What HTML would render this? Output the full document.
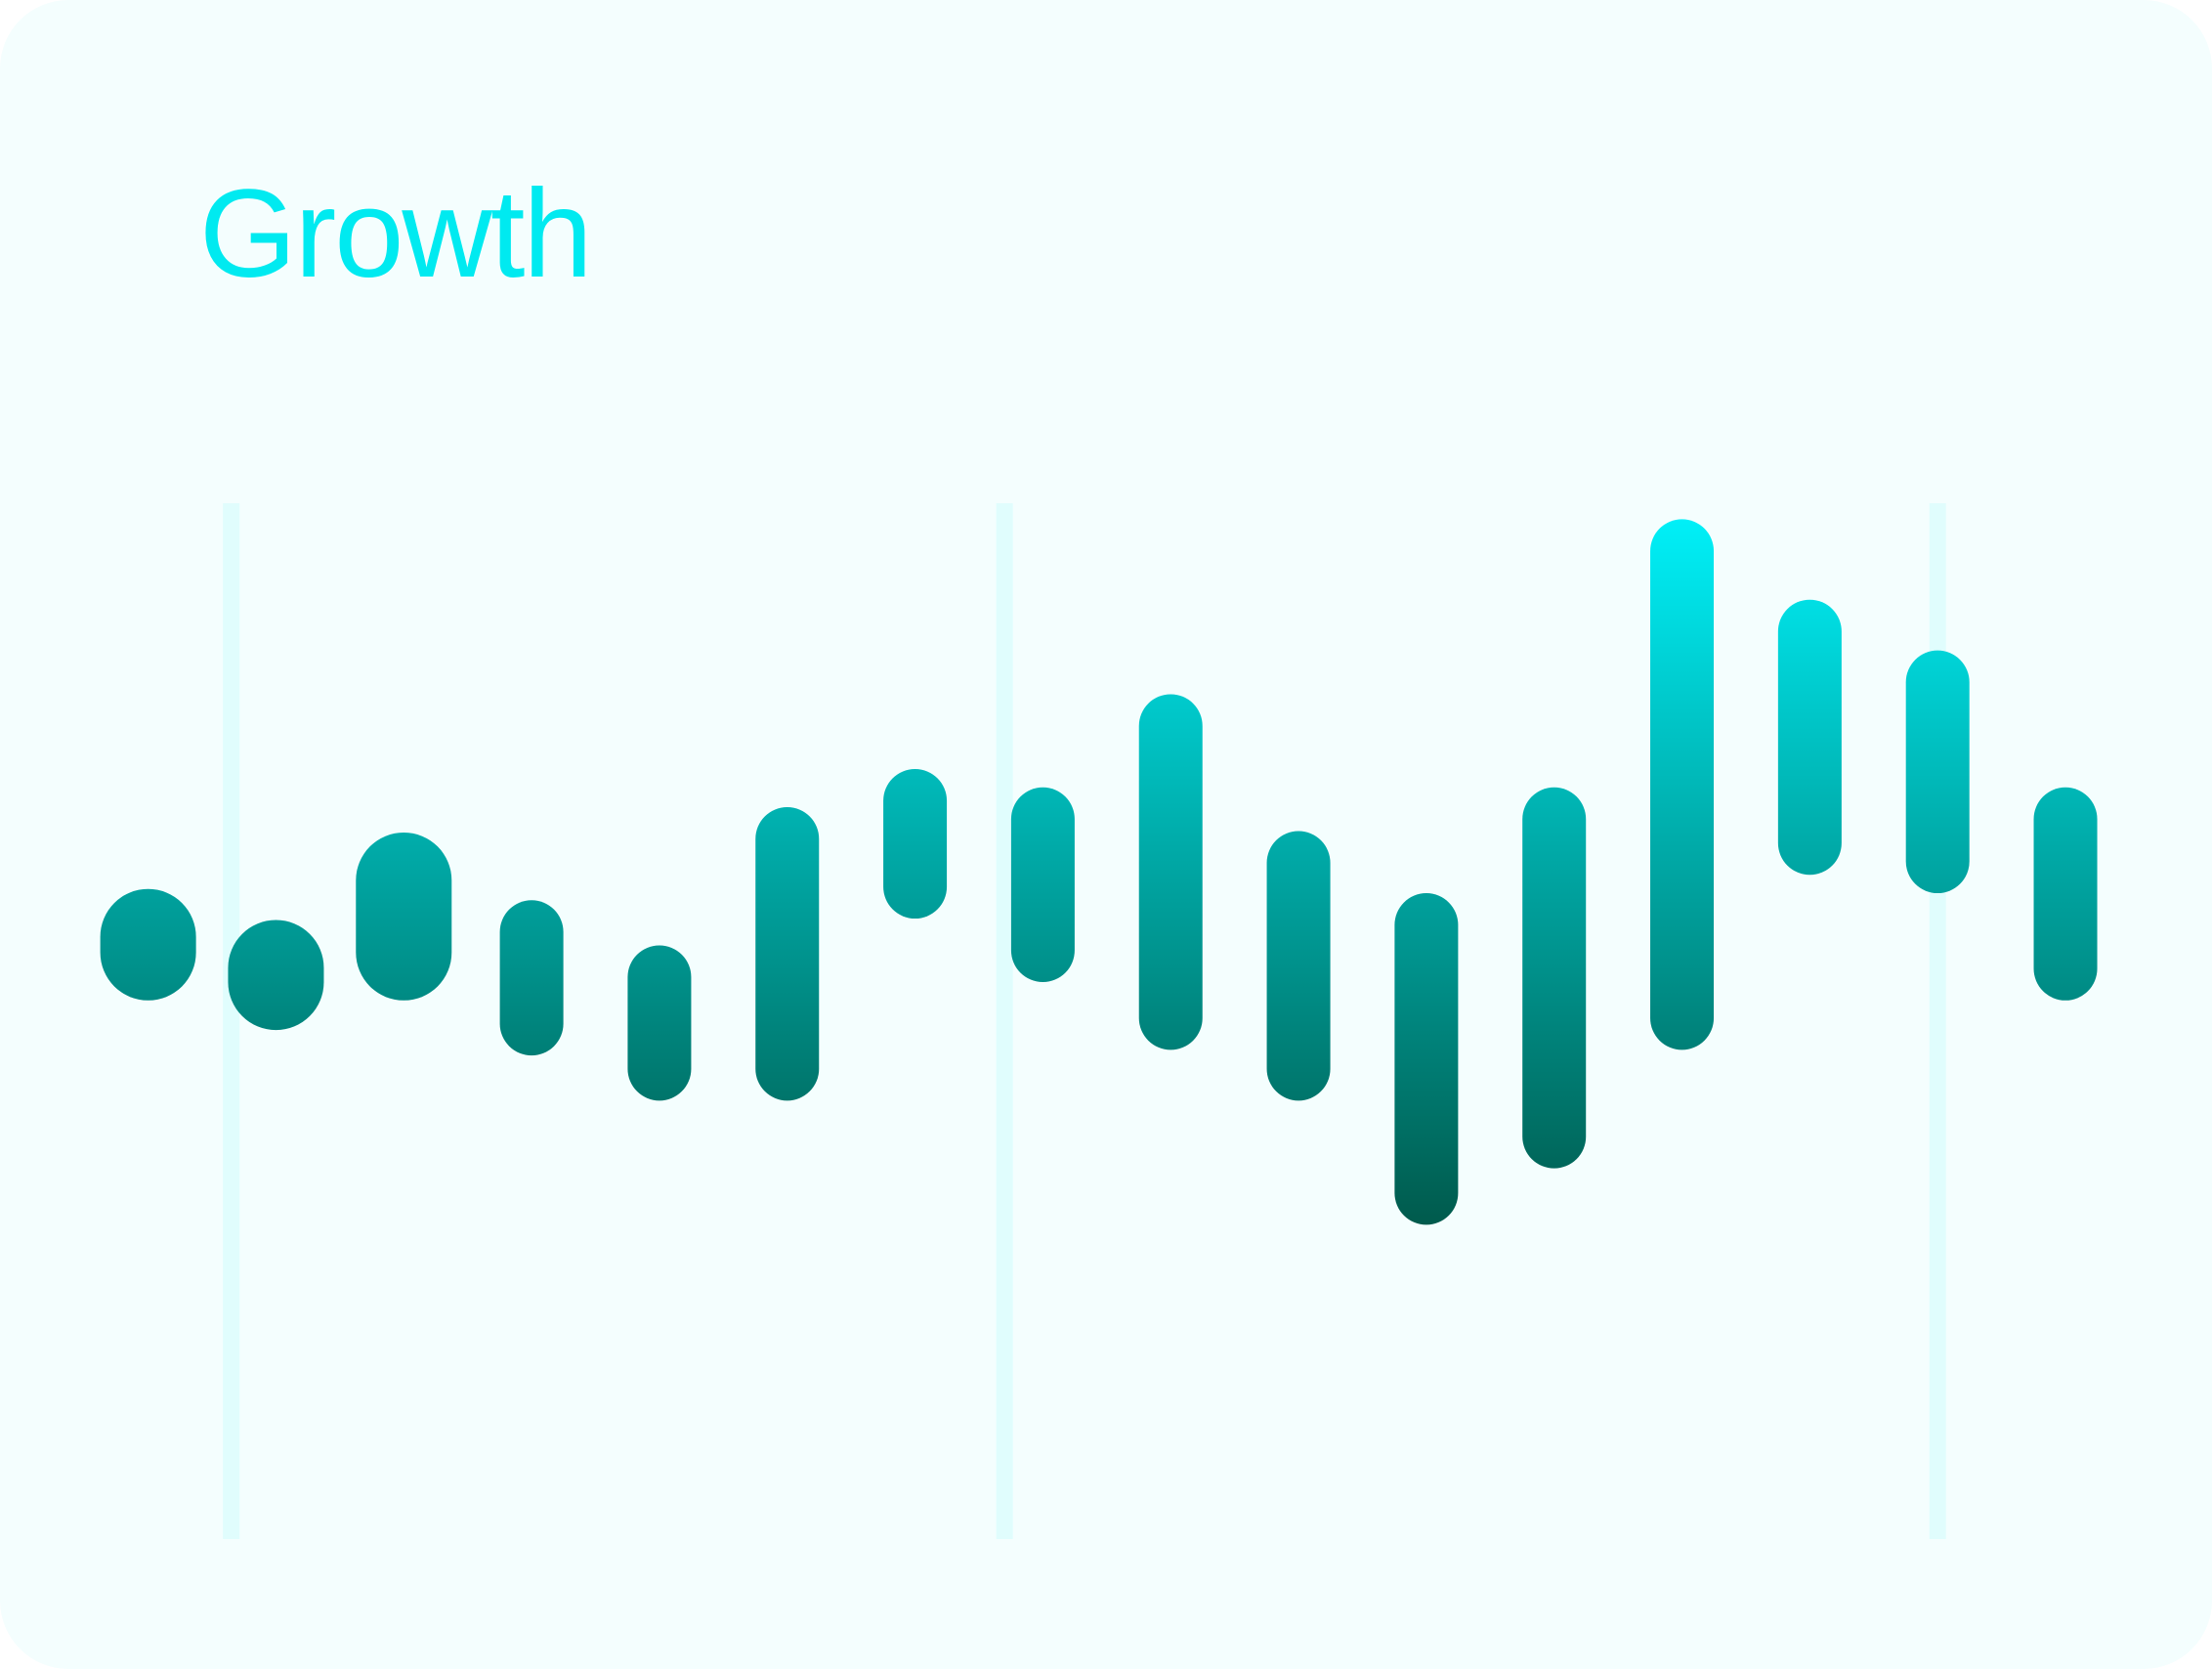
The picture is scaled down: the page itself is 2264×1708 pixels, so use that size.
<!DOCTYPE html>
<html><head><meta charset="utf-8"><style>
html,body{margin:0;padding:0;background:#fff;}
#card{position:absolute;left:0;top:0;width:2264px;height:1708px;background:#f4fefe;border-radius:70px;overflow:hidden;}
#title{position:absolute;left:204px;top:160px;font-family:"Liberation Sans",sans-serif;font-size:128px;line-height:160px;color:#00eaf0;letter-spacing:-2px;}
svg{position:absolute;left:0;top:0;}
</style></head><body>
<div id="card">
<div id="title">Growth</div>
<svg id="chart" width="2264" height="1708">
<defs><linearGradient id="g" gradientUnits="userSpaceOnUse" x1="0" y1="530" x2="0" y2="1255">
<stop offset="0" stop-color="#00f0f8"/><stop offset="1" stop-color="#005a4c"/></linearGradient></defs>
<g id="grid"></g><g id="bars"></g>
</svg>
</div>
<script>
const categories = ["1","2","3","4","5","6","7","8","9","10","11","12","13","14","15","16"];
const lowValues  = [191,170,191,152,120,120,249,204,156,120,32,72,156,280,267,191];
const highValues = [270,248,310,262,230,328,355,342,408,311,267,342,532,475,439,342];
const barWidths  = [98,98,98,65,65,65,65,65,65,65,65,65,65,65,65,65];
const gridCats = [0.65,6.7,14];

const S = 1.444;
function yPix(v){ return (900 - v) * S; }
function xPix(i){ return (105 + i * 90.6) * S; }

const ns = "http://www.w3.org/2000/svg";
const grid = document.getElementById('grid');
gridCats.forEach(function(c){
  const r = document.createElementNS(ns,'rect');
  r.setAttribute('x', xPix(c) - 8.5);
  r.setAttribute('y', 515);
  r.setAttribute('width', 17);
  r.setAttribute('height', 1060);
  r.setAttribute('fill', '#e0fdfd');
  
  
  grid.appendChild(r);
});
const bars = document.getElementById('bars');
categories.forEach(function(c,i){
  const w = barWidths[i];
  const y1 = yPix(highValues[i]), y2 = yPix(lowValues[i]);
  const r = document.createElementNS(ns,'rect');
  r.setAttribute('x', xPix(i) - w/2);
  r.setAttribute('y', y1);
  r.setAttribute('width', w);
  r.setAttribute('height', y2 - y1);
  r.setAttribute('rx', w/2);
  r.setAttribute('ry', Math.min(w/2, (y2-y1)/2));
  r.setAttribute('fill', 'url(#g)');
  
  
  bars.appendChild(r);
});
</script>
</body></html>
